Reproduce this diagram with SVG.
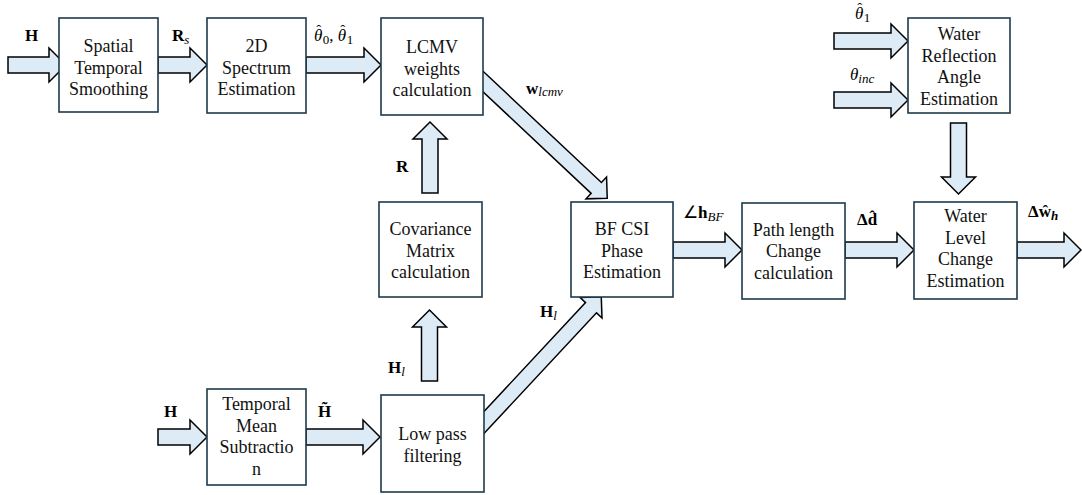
<svg xmlns="http://www.w3.org/2000/svg" width="1082" height="495" viewBox="0 0 1082 495" font-family="'Liberation Serif', 'Times New Roman', serif">
<style>
.box{fill:#fff;stroke:#1f3a4d;stroke-width:1.6}
.arr{fill:#DDEBF7;stroke:#000;stroke-width:1.5;stroke-linejoin:miter}
text{font-family:"Liberation Serif","Times New Roman",serif}
.t{font-size:18px;fill:#111;text-anchor:middle}
.lb{font-size:17px;fill:#000}
.b{font-weight:bold}
.i{font-style:italic}
.s{font-size:13px}
.h{font-size:15px;font-style:normal}
</style>
<rect width="1082" height="495" fill="#fff"/>
<g id="connectors">
  <path class="arr" transform="translate(8,65)" d="M0,-8 H41 V-17 L58,0 L41,17 V8 H0 Z"/>
  <path class="arr" transform="translate(158,65)" d="M0,-8 H32 V-17 L49,0 L32,17 V8 H0 Z"/>
  <path class="arr" transform="translate(306,65)" d="M0,-8 H58 V-17 L75,0 L58,17 V8 H0 Z"/>
  <path class="arr" transform="translate(478.2,77) rotate(43.2)" d="M0,-7.5 H162 V-15 L177,0 L162,15 V7.5 H0 Z"/>
  <path class="arr" transform="translate(478.5,428.4) rotate(-47)" d="M0,-7.5 H165 V-15 L180,0 L165,15 V7.5 H0 Z"/>
  <path class="arr" transform="translate(430,193) rotate(-90)" d="M0,-8 H54 V-17 L71,0 L54,17 V8 H0 Z"/>
  <path class="arr" transform="translate(429.5,381) rotate(-90)" d="M0,-8 H54 V-17 L71,0 L54,17 V8 H0 Z"/>
  <path class="arr" transform="translate(158,437)" d="M0,-8 H32 V-17 L49,0 L32,17 V8 H0 Z"/>
  <path class="arr" transform="translate(306,437)" d="M0,-8 H57 V-17 L74,0 L57,17 V8 H0 Z"/>
  <path class="arr" transform="translate(673,250)" d="M0,-8 H52 V-17 L69,0 L52,17 V8 H0 Z"/>
  <path class="arr" transform="translate(845,250)" d="M0,-8 H52 V-17 L69,0 L52,17 V8 H0 Z"/>
  <path class="arr" transform="translate(1017,250)" d="M0,-8 H47 V-17 L64,0 L47,17 V8 H0 Z"/>
  <path class="arr" transform="translate(834,41)" d="M0,-8 H57 V-17 L74,0 L57,17 V8 H0 Z"/>
  <path class="arr" transform="translate(834,100)" d="M0,-8 H57 V-17 L74,0 L57,17 V8 H0 Z"/>
  <path class="arr" transform="translate(958.5,123) rotate(90)" d="M0,-8 H54 V-17 L71,0 L54,17 V8 H0 Z"/>
</g>
<g id="n_sts"><rect class="box" x="59" y="18" width="99" height="94"/>
  <text class="t" x="108.5" y="52">Spatial</text><text class="t" x="108.5" y="73.5">Temporal</text><text class="t" x="108.5" y="95">Smoothing</text></g>
<g id="n_2d"><rect class="box" x="207" y="18" width="99" height="95"/>
  <text class="t" x="256.5" y="52">2D</text><text class="t" x="256.5" y="73.5">Spectrum</text><text class="t" x="256.5" y="95">Estimation</text></g>
<g id="n_lcmv"><rect class="box" x="381" y="18" width="102" height="97"/>
  <text class="t" x="432" y="53">LCMV</text><text class="t" x="432" y="74.5">weights</text><text class="t" x="432" y="96">calculation</text></g>
<g id="n_cov"><rect class="box" x="379" y="202" width="103" height="95"/>
  <text class="t" x="430.5" y="235">Covariance</text><text class="t" x="430.5" y="256.5">Matrix</text><text class="t" x="430.5" y="278">calculation</text></g>
<g id="n_lpf"><rect class="box" x="381" y="395" width="103" height="97"/>
  <text class="t" x="432.5" y="440">Low pass</text><text class="t" x="432.5" y="462">filtering</text></g>
<g id="n_bf"><rect class="box" x="571" y="202" width="102" height="95"/>
  <text class="t" x="622" y="235">BF CSI</text><text class="t" x="622" y="256.5">Phase</text><text class="t" x="622" y="278">Estimation</text></g>
<g id="n_tms"><rect class="box" x="207" y="389" width="99" height="96"/>
  <text class="t" x="256.5" y="410">Temporal</text><text class="t" x="256.5" y="431.5">Mean</text><text class="t" x="256.5" y="453">Subtractio</text><text class="t" x="256.5" y="474.5">n</text></g>
<g id="n_wra"><rect class="box" x="908" y="18" width="102" height="95"/>
  <text class="t" x="959" y="40">Water</text><text class="t" x="959" y="61.5">Reflection</text><text class="t" x="959" y="83">Angle</text><text class="t" x="959" y="104.5">Estimation</text></g>
<g id="n_path"><rect class="box" x="742" y="203" width="103" height="96"/>
  <text class="t" x="793.5" y="235.5">Path length</text><text class="t" x="793.5" y="257">Change</text><text class="t" x="793.5" y="278.5">calculation</text></g>
<g id="n_wl"><rect class="box" x="914" y="202" width="103" height="97"/>
  <text class="t" x="965.5" y="222">Water</text><text class="t" x="965.5" y="243.5">Level</text><text class="t" x="965.5" y="265">Change</text><text class="t" x="965.5" y="286.5">Estimation</text></g>
<g id="labels">
  <text class="lb b" x="25" y="41">H</text>
  <text class="lb" x="172" y="41"><tspan class="b">R</tspan><tspan class="i s" dy="3">s</tspan></text>
  <text class="lb" x="314" y="41" font-size="18"><tspan class="i">θ</tspan><tspan class="h" dx="-6" dy="-6">ˆ</tspan><tspan class="s" dx="1.5" dy="9">0</tspan><tspan dy="-3">, </tspan><tspan class="i">θ</tspan><tspan class="h" dx="-6" dy="-6">ˆ</tspan><tspan class="s" dx="1.5" dy="9">1</tspan></text>
  <text class="lb" x="526" y="94"><tspan class="b">w</tspan><tspan class="i s" dy="2">lcmv</tspan></text>
  <text class="lb b" x="396" y="172">R</text>
  <text class="lb" x="388" y="373"><tspan class="b">H</tspan><tspan class="i s" dy="3">l</tspan></text>
  <text class="lb" x="540" y="317"><tspan class="b">H</tspan><tspan class="i s" dy="3">l</tspan></text>
  <text class="lb" x="683" y="218">∠<tspan class="b">h</tspan><tspan class="i s" dy="3">BF</tspan></text>
  <text class="lb b" x="857" y="225">Δd̂</text>
  <text class="lb" x="1028" y="217"><tspan class="b">Δŵ</tspan><tspan class="b i s" dy="3">h</tspan></text>
  <text class="lb" x="855" y="19" font-size="18"><tspan class="i">θ</tspan><tspan class="h" dx="-6" dy="-6">ˆ</tspan><tspan class="s" dx="1.5" dy="9">1</tspan></text>
  <text class="lb" x="850" y="80" font-size="18"><tspan class="i">θ</tspan><tspan class="i s" dy="3">inc</tspan></text>
  <text class="lb b" x="164" y="417">H</text>
  <text class="lb b" x="318" y="417">H̃</text>
</g>
</svg>
